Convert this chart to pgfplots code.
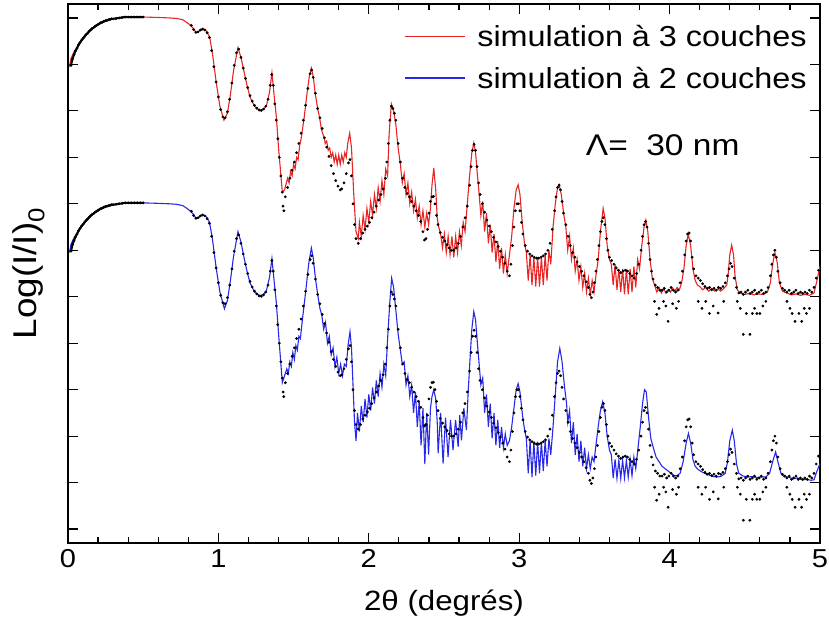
\documentclass[border=0pt]{standalone}
\usepackage{fontspec}
\setmainfont{Liberation Sans}[FakeStretch=1.12]
\usepackage{pgfplots}
\usepackage{pgfplotstable}
\pgfplotsset{compat=1.18}
\definecolor{simred}{RGB}{232,36,36}
\definecolor{simblue}{RGB}{40,40,235}

\pgfplotstableread{
x y
0.02 9.98
0.03 10.12
0.04 10.21
0.05 10.29
0.06 10.35
0.07 10.42
0.08 10.47
0.09 10.52
0.10 10.56
0.11 10.60
0.12 10.64
0.13 10.67
0.14 10.71
0.15 10.74
0.16 10.77
0.17 10.79
0.18 10.82
0.19 10.84
0.20 10.86
0.21 10.88
0.22 10.90
0.23 10.91
0.24 10.93
0.25 10.94
0.26 10.95
0.27 10.96
0.28 10.97
0.29 10.98
0.30 10.98
0.32 10.99
0.34 11.00
0.36 11.01
0.38 11.02
0.40 11.02
0.42 11.02
0.44 11.02
0.46 11.02
0.48 11.02
0.50 11.02
0.82 10.84
0.835 10.75
0.85 10.69
0.865 10.70
0.88 10.74
0.895 10.76
0.91 10.74
0.925 10.68
0.94 10.58
0.955 10.30
0.97 9.95
0.985 9.62
1.00 9.30
1.015 9.03
1.03 8.87
1.045 8.85
1.06 8.98
1.075 9.25
1.09 9.60
1.105 9.98
1.12 10.25
1.135 10.33
1.15 10.15
1.165 9.92
1.18 9.70
1.195 9.50
1.21 9.33
1.225 9.21
1.24 9.12
1.255 9.06
1.27 9.02
1.285 9.01
1.30 9.04
1.315 9.10
1.33 9.25
1.345 9.55
1.355 9.78
1.365 9.55
1.375 9.15
1.385 8.80
1.395 8.40
1.405 8.00
1.415 7.60
1.425 7.25
1.43 6.95
1.435 6.85
1.445 7.15
1.46 7.35
1.475 7.55
1.49 7.72
1.505 7.90
1.52 8.10
1.535 8.30
1.55 8.52
1.565 8.80
1.58 9.12
1.595 9.48
1.61 9.80
1.62 9.88
1.63 9.72
1.645 9.38
1.66 9.05
1.675 8.85
1.69 8.62
1.705 8.42
1.72 8.22
1.735 8.02
1.75 7.82
1.765 7.65
1.78 7.50
1.795 7.38
1.81 7.30
1.82 7.32
1.835 7.45
1.85 7.65
1.865 7.88
1.875 7.95
1.885 7.60
1.895 7.00
1.905 6.55
1.915 6.25
1.93 6.15
1.945 6.25
1.96 6.37
1.975 6.45
1.99 6.52
2.005 6.60
2.02 6.70
2.035 6.82
2.05 6.95
2.065 7.08
2.08 7.20
2.095 7.32
2.11 7.55
2.12 7.90
2.13 8.30
2.14 8.80
2.15 9.10
2.16 9.05
2.17 8.95
2.18 8.80
2.195 8.30
2.21 7.90
2.225 7.55
2.24 7.35
2.255 7.22
2.27 7.15
2.285 7.05
2.30 6.95
2.315 6.85
2.33 6.75
2.345 6.62
2.36 6.40
2.37 6.22
2.38 6.25
2.39 6.45
2.40 6.80
2.41 7.05
2.42 7.15
2.43 7.16
2.44 7.00
2.45 6.75
2.46 6.55
2.475 6.38
2.49 6.28
2.505 6.20
2.52 6.12
2.535 6.05
2.55 6.00
2.565 6.00
2.58 6.05
2.595 6.15
2.61 6.30
2.625 6.50
2.64 6.70
2.655 6.95
2.67 7.40
2.68 7.80
2.69 8.15
2.70 8.28
2.71 8.15
2.72 7.80
2.73 7.45
2.74 7.20
2.755 7.00
2.77 6.82
2.785 6.65
2.80 6.52
2.815 6.40
2.83 6.28
2.845 6.18
2.86 6.08
2.875 5.98
2.89 5.85
2.905 5.72
2.92 5.55
2.935 5.45
2.945 5.70
2.955 6.10
2.965 6.50
2.975 6.85
2.985 7.00
2.995 7.00
3.005 6.85
3.015 6.60
3.025 6.35
3.04 6.10
3.055 5.98
3.07 5.92
3.085 5.88
3.10 5.85
3.115 5.83
3.13 5.83
3.145 5.85
3.16 5.88
3.175 5.92
3.19 6.00
3.205 6.15
3.22 6.45
3.235 6.85
3.245 7.15
3.255 7.35
3.265 7.40
3.275 7.30
3.285 7.05
3.295 6.80
3.31 6.55
3.325 6.30
3.34 6.10
3.355 5.95
3.37 5.85
3.385 5.75
3.40 5.65
3.415 5.55
3.43 5.45
3.445 5.32
3.46 5.20
3.47 5.05
3.48 4.98
3.49 5.10
3.50 5.30
3.51 5.55
3.52 5.80
3.53 6.10
3.54 6.40
3.55 6.62
3.56 6.70
3.57 6.55
3.58 6.25
3.59 6.00
3.60 5.85
3.615 5.78
3.63 5.70
3.645 5.62
3.66 5.57
3.675 5.52
3.69 5.55
3.705 5.57
3.72 5.55
3.735 5.50
3.75 5.45
3.765 5.40
3.78 5.50
3.795 5.70
3.81 6.00
3.82 6.30
3.83 6.55
3.84 6.62
3.85 6.50
3.86 6.15
3.87 5.80
3.88 5.55
3.89 5.38
3.905 5.25
3.92 5.20
3.935 5.14
3.95 5.14
3.965 5.18
3.98 5.10
3.995 5.14
4.01 5.20
4.025 5.14
4.04 5.10
4.055 5.14
4.07 5.30
4.085 5.55
4.10 5.90
4.11 6.20
4.12 6.35
4.13 6.37
4.14 6.20
4.15 5.85
4.16 5.60
4.175 5.45
4.19 5.40
4.205 5.35
4.22 5.28
4.235 5.22
4.25 5.18
4.265 5.20
4.28 5.15
4.295 5.18
4.31 5.14
4.325 5.20
4.34 5.18
4.355 5.22
4.37 5.30
4.385 5.45
4.395 5.60
4.405 5.72
4.415 5.65
4.43 5.40
4.445 5.20
4.46 5.08
4.475 5.10
4.49 5.05
4.505 5.10
4.52 5.14
4.535 5.07
4.55 5.10
4.565 5.14
4.58 5.07
4.595 5.10
4.61 5.14
4.625 5.07
4.64 5.10
4.655 5.20
4.67 5.45
4.68 5.70
4.69 5.90
4.70 6.00
4.71 5.85
4.72 5.55
4.735 5.30
4.75 5.18
4.765 5.14
4.78 5.10
4.795 5.14
4.81 5.07
4.825 5.10
4.84 5.14
4.855 5.07
4.87 5.10
4.885 5.07
4.90 5.10
4.915 5.07
4.93 5.14
4.945 5.10
4.96 5.20
4.975 5.40
4.99 5.57
3.90 4.90
3.914 4.62
3.93 4.75
3.96 4.90
3.975 4.80
3.99 4.47
4.02 4.85
4.045 4.75
4.06 4.90
4.19 4.90
4.215 4.75
4.24 4.90
4.265 4.64
4.29 4.80
4.323 4.65
4.36 4.90
4.45 4.90
4.47 4.75
4.49 4.19
4.51 4.64
4.534 4.19
4.55 4.64
4.565 4.75
4.58 4.64
4.60 4.64
4.62 4.80
4.64 4.90
4.78 4.90
4.80 4.75
4.815 4.64
4.834 4.47
4.878 4.47
4.86 4.64
4.895 4.75
4.91 4.64
4.93 4.75
}\expdata

\begin{document}
\begin{tikzpicture}
\begin{axis}[name=ax, scale only axis, width=752bp, height=539bp,
  xmin=0, xmax=5, ymin=-0.3, ymax=11.3,
  xtick={0,1,2,3,4,5}, minor x tick num=4,
  ytick={0,1,2,3,4,5,6,7,8,9,10,11}, yticklabels={},
  tick align=inside, major tick length=10bp, minor tick length=6bp,
  axis line style={line width=1.5bp},
  every tick/.style={black, line width=1.2bp},
  /pgf/number format/assume math mode=true,
  tick label style={font=\fontsize{26}{28}\selectfont},
  xticklabel style={yshift=-3bp},
  xlabel={2θ (degrés)}, ylabel={Log(I/I)\textsubscript{0}},
  xlabel style={font=\fontsize{28}{30}\selectfont, at={(axis description cs:0.5,-0.112)}, anchor=center},
  ylabel style={font=\fontsize{33}{35}\selectfont, at={(axis description cs:-0.052,0.5)}, anchor=center},
  legend style={draw=none, fill=none, at={(rel axis cs:0.985,0.965)}, anchor=north east,
    font=\fontsize{29}{31}\selectfont, row sep=15bp, inner sep=0pt,
    /tikz/every odd column/.append style={column sep=10bp}},
  legend cell align=left,
  legend image code/.code={\draw[#1, line width=1.4bp] (0bp,0bp) -- (60bp,0bp);},
]
\addplot[simred, line width=1.1bp] coordinates {
(0.01,9.95)(0.02,10.13)(0.04,10.27)(0.06,10.37)(0.08,10.47)(0.10,10.56)(0.13,10.68)(0.165,10.78)(0.2,10.87)(0.25,10.94)(0.3,10.98)(0.39,11.02)(0.5,11.02)(0.6,11.01)(0.675,11.0)(0.72,10.99)(0.764,10.96)(0.80,10.88)(0.83,10.79)(0.853,10.68)(0.875,10.72)(0.897,10.76)(0.92,10.72)(0.941,10.60)(0.96,10.25)(0.986,9.60)(1.01,9.1)(1.037,8.80)(1.06,8.95)(1.08,9.35)(1.10,9.85)(1.13,10.36)(1.15,10.15)(1.17,9.85)(1.19,9.55)(1.21,9.30)(1.24,9.10)(1.274,9.00)(1.30,9.03)(1.32,9.12)(1.34,9.4)(1.356,9.82)(1.37,9.35)(1.385,8.88)(1.40,8.2)(1.425,7.25)(1.44,7.3)
(1.46,7.55)(1.47,7.45)(1.48,7.7)(1.49,7.6)(1.50,7.85)(1.51,7.75)(1.52,8.0)(1.53,7.95)(1.54,8.25)(1.55,8.4)(1.57,8.85)(1.59,9.4)(1.605,9.75)(1.618,9.92)(1.63,9.75)(1.645,9.35)(1.66,9.05)(1.673,8.85)(1.685,8.6)(1.695,8.5)(1.705,8.4)(1.71,8.3)(1.72,8.35)(1.73,8.15)(1.74,8.2)(1.75,8.0)(1.76,8.1)(1.77,7.9)(1.78,8.05)(1.79,7.85)(1.80,8.05)(1.81,7.85)(1.82,8.05)(1.83,7.9)(1.84,8.1)(1.85,8.0)(1.86,8.3)(1.873,8.52)(1.885,8.2)(1.90,7.2)(1.915,6.4)(1.93,6.25)
(1.9375,6.6)(1.95,6.3)(1.9625,6.75)(1.975,6.45)(1.9875,6.9)(2.0,6.6)(2.0125,7.05)(2.025,6.75)(2.0375,7.2)(2.05,6.9)(2.0625,7.35)(2.075,7.05)(2.0875,7.5)(2.10,7.2)(2.1125,7.75)(2.125,7.6)(2.135,8.5)(2.15,9.15)(2.165,9.0)(2.18,8.7)(2.195,8.2)(2.21,7.85)
(2.2225,7.45)(2.235,7.65)(2.2475,7.2)(2.26,7.45)(2.2725,7.0)(2.285,7.25)(2.2975,6.85)(2.31,7.1)(2.3225,6.7)(2.335,6.95)(2.3475,6.55)(2.36,6.85)(2.3725,6.5)(2.385,6.8)(2.3975,6.55)(2.41,6.9)(2.42,7.4)(2.432,7.77)(2.445,7.3)(2.455,6.7)(2.465,6.5)
(2.4775,6.35)(2.49,6.05)(2.5025,6.35)(2.515,5.95)(2.5275,6.3)(2.54,5.9)(2.5525,6.3)(2.565,5.85)(2.5775,6.3)(2.59,5.95)(2.6025,6.4)(2.615,6.1)(2.6275,6.6)(2.64,6.4)(2.655,7.0)(2.67,7.6)(2.685,8.1)(2.698,8.31)(2.71,8.1)(2.72,7.7)
(2.7325,7.25)(2.745,6.75)(2.7575,7.05)(2.77,6.4)(2.7825,6.8)(2.795,6.15)(2.8075,6.55)(2.82,5.95)(2.8325,6.35)(2.845,5.75)(2.8575,6.2)(2.87,5.6)(2.8825,6.05)(2.895,5.5)(2.9075,5.9)(2.92,5.5)(2.935,5.9)(2.95,6.3)(2.965,6.9)(2.98,7.3)(2.993,7.41)(3.005,7.2)(3.02,6.6)(3.035,6.15)
(3.0475,5.95)(3.06,5.35)(3.0725,5.9)(3.085,5.25)(3.0975,5.85)(3.11,5.22)(3.1225,5.85)(3.135,5.22)(3.1475,5.85)(3.16,5.25)(3.1725,5.9)(3.185,5.35)(3.1975,6.0)(3.21,5.7)(3.225,6.5)(3.24,7.0)(3.255,7.35)(3.265,7.41)(3.28,7.2)(3.295,6.8)(3.31,6.5)
(3.3225,6.0)(3.335,6.3)(3.3475,5.8)(3.36,6.05)(3.3725,5.55)(3.385,5.8)(3.3975,5.35)(3.41,5.65)(3.4225,5.2)(3.435,5.5)(3.4475,5.1)(3.46,5.4)(3.4725,5.05)(3.485,5.35)(3.4975,5.1)(3.51,5.45)(3.525,5.8)(3.54,6.4)(3.558,6.9)(3.57,6.7)(3.585,6.1)(3.60,5.8)
(3.6125,5.7)(3.625,5.25)(3.6375,5.7)(3.65,5.15)(3.6625,5.6)(3.675,5.1)(3.6875,5.6)(3.70,5.05)(3.7125,5.6)(3.725,5.05)(3.7375,5.6)(3.75,5.1)(3.7625,5.65)(3.775,5.2)(3.7875,5.8)(3.80,5.6)(3.815,6.1)(3.83,6.5)(3.842,6.65)(3.855,6.4)(3.87,5.8)(3.885,5.4)
(3.90,5.25)(3.915,5.1)(3.93,5.2)(3.945,5.08)(3.96,5.18)(3.975,5.08)(3.99,5.15)(4.005,5.1)(4.02,5.18)(4.035,5.12)(4.05,5.2)(4.065,5.15)(4.08,5.3)(4.095,5.6)(4.11,6.1)(4.124,6.35)(4.14,6.1)(4.155,5.6)(4.17,5.35)(4.185,5.25)
(4.20,5.22)(4.22,5.15)(4.24,5.2)(4.26,5.12)(4.28,5.18)(4.30,5.12)(4.32,5.17)(4.34,5.12)(4.36,5.18)(4.38,5.25)(4.39,5.5)(4.40,5.9)(4.413,6.11)(4.425,5.9)(4.435,5.45)(4.45,5.15)
(4.47,5.08)(4.50,5.05)(4.53,5.07)(4.56,5.04)(4.59,5.06)(4.62,5.05)(4.65,5.1)(4.67,5.3)(4.685,5.7)(4.70,5.95)(4.715,5.75)(4.73,5.3)(4.75,5.12)
(4.78,5.08)(4.81,5.04)(4.84,5.06)(4.87,5.03)(4.90,5.05)(4.93,5.03)(4.96,5.08)(4.98,5.35)(5.0,5.65)
};
\addlegendentry{simulation à 3 couches}
\addplot[simblue, line width=1.1bp] coordinates {
(0.01,5.95)(0.02,6.13)(0.04,6.27)(0.06,6.37)(0.08,6.47)(0.10,6.56)(0.13,6.68)(0.165,6.78)(0.2,6.87)(0.25,6.94)(0.3,6.98)(0.39,7.02)(0.5,7.02)(0.6,7.01)(0.675,7.0)(0.72,6.99)(0.764,6.96)(0.80,6.88)(0.83,6.79)(0.853,6.68)(0.875,6.72)(0.897,6.76)(0.92,6.72)(0.941,6.60)(0.96,6.25)(0.986,5.60)(1.01,5.1)(1.04,4.74)(1.06,4.92)(1.08,5.35)(1.10,5.85)(1.13,6.40)(1.15,6.18)(1.17,5.85)(1.19,5.55)(1.21,5.30)(1.24,5.10)(1.274,5.02)(1.30,5.05)(1.32,5.14)(1.34,5.42)(1.356,5.82)(1.37,5.35)(1.385,4.88)(1.40,4.2)(1.425,3.15)(1.44,3.3)
(1.455,3.45)(1.465,3.35)(1.475,3.6)(1.485,3.5)(1.495,3.8)(1.505,3.65)(1.515,3.95)(1.525,3.85)(1.535,4.15)(1.545,4.1)(1.56,4.55)(1.58,5.1)(1.60,5.7)(1.618,6.05)(1.63,5.85)(1.645,5.4)(1.66,5.05)(1.675,4.75)
(1.6875,4.6)(1.70,4.3)(1.7125,4.45)(1.725,4.0)(1.7375,4.15)(1.75,3.75)(1.7625,3.9)(1.775,3.5)(1.7875,3.7)(1.80,3.35)(1.8125,3.55)(1.825,3.3)(1.8375,3.55)(1.85,3.5)(1.862,3.95)(1.875,4.25)(1.885,3.9)(1.895,3.1)(1.905,2.3)(1.915,1.9)
(1.925,2.5)(1.9375,2.1)(1.95,2.65)(1.9625,2.3)(1.975,2.8)(1.9875,2.4)(2.0,2.9)(2.0125,2.55)(2.025,3.05)(2.0375,2.7)(2.05,3.2)(2.0625,2.85)(2.075,3.35)(2.0875,3.05)(2.10,3.55)(2.1125,3.3)(2.125,4.1)(2.14,4.9)(2.152,5.4)(2.165,5.2)(2.18,4.7)(2.195,4.2)(2.21,3.85)
(2.2225,3.55)(2.235,3.6)(2.2475,3.1)(2.26,3.3)(2.2725,2.85)(2.285,3.1)(2.2975,2.5)(2.31,2.95)(2.3225,2.2)(2.335,2.75)(2.3475,1.8)(2.36,2.6)(2.3725,1.4)(2.385,2.5)(2.3975,1.6)(2.41,2.6)(2.42,2.85)(2.432,3.0)(2.445,2.8)(2.455,2.3)
(2.461,1.63)(2.4775,2.5)(2.494,1.41)(2.51,2.4)(2.527,1.55)(2.543,2.35)(2.560,1.70)(2.577,2.35)(2.594,1.77)(2.605,2.45)(2.616,1.91)(2.632,2.6)(2.649,2.13)(2.66,2.9)(2.672,3.6)(2.685,4.3)(2.698,4.68)(2.71,4.5)(2.722,4.0)(2.735,3.5)
(2.745,3.1)(2.7575,3.25)(2.77,2.5)(2.7825,2.9)(2.795,2.2)(2.8075,2.7)(2.82,1.95)(2.8325,2.5)(2.845,1.8)(2.8575,2.35)(2.87,1.75)(2.8825,2.2)(2.895,1.75)(2.9075,2.05)(2.92,1.8)(2.935,1.9)(2.95,2.2)(2.965,2.6)(2.98,3.0)(2.993,3.13)(3.005,2.95)(3.02,2.5)(3.035,2.15)
(3.0475,1.95)(3.06,1.2)(3.0725,1.9)(3.085,1.12)(3.0975,1.88)(3.11,1.15)(3.1225,1.88)(3.135,1.2)(3.1475,1.88)(3.16,1.25)(3.1725,1.9)(3.185,1.35)(3.1975,1.95)(3.21,1.6)(3.225,2.2)(3.24,2.9)(3.255,3.6)(3.27,3.89)(3.285,3.6)(3.30,3.1)(3.315,2.7)
(3.3225,2.3)(3.335,2.55)(3.3475,1.85)(3.36,2.3)(3.3725,1.6)(3.385,2.05)(3.3975,1.45)(3.41,1.9)(3.4225,1.35)(3.435,1.75)(3.4475,1.3)(3.46,1.6)(3.4725,1.3)(3.485,1.55)(3.4975,1.45)(3.51,1.8)(3.525,2.2)(3.54,2.55)(3.555,2.74)(3.57,2.5)(3.585,2.0)(3.60,1.7)
(3.6125,1.6)(3.625,1.1)(3.6375,1.5)(3.65,1.09)(3.6625,1.48)(3.675,1.09)(3.6875,1.48)(3.70,1.1)(3.7125,1.48)(3.725,1.12)(3.7375,1.5)(3.75,1.15)(3.7625,1.55)(3.775,1.3)(3.79,1.75)(3.805,2.2)(3.82,2.7)(3.833,3.0)(3.845,2.95)(3.86,2.4)(3.875,1.95)(3.89,1.77)
(3.91,1.55)(3.93,1.45)(3.95,1.35)(3.97,1.3)(3.99,1.25)(4.01,1.2)(4.03,1.15)(4.05,1.15)(4.07,1.2)(4.09,1.45)(4.11,1.85)(4.125,2.06)(4.14,1.85)(4.155,1.5)(4.17,1.35)(4.19,1.28)
(4.22,1.22)(4.25,1.18)(4.28,1.14)(4.31,1.12)(4.34,1.13)(4.37,1.2)(4.385,1.45)(4.40,1.9)(4.417,2.13)(4.43,1.9)(4.445,1.4)(4.46,1.2)
(4.49,1.14)(4.52,1.12)(4.55,1.13)(4.58,1.11)(4.61,1.12)(4.64,1.12)(4.665,1.2)(4.685,1.45)(4.705,1.66)(4.72,1.45)(4.74,1.2)(4.76,1.13)
(4.79,1.12)(4.82,1.08)(4.85,1.1)(4.88,1.06)(4.91,1.07)(4.94,1.05)(4.96,1.06)(4.98,1.25)(5.0,1.41)
};
\addlegendentry{simulation à 2 couches}
\addplot[black, line width=2bp, restrict x to domain=0:0.51, forget plot] table[x=x, y=y] {\expdata};
\addplot[black, line width=2bp, restrict x to domain=0:0.51, forget plot] table[x=x, y expr=\thisrow{y}-4] {\expdata};
\addplot[only marks, mark=*, mark size=1.2bp, black, forget plot] table[x=x, y=y] {\expdata};
\addplot[only marks, mark=*, mark size=1.2bp, black, forget plot] table[x=x, y expr=\thisrow{y}-4] {\expdata};
\node[anchor=west, font=\fontsize{30}{32}\selectfont] at (axis cs:3.42,8.27) {Λ=\ \ 30 nm};
\end{axis}
\pgfresetboundingbox
\path[use as bounding box] ([shift={(-68bp,-87bp)}]ax.south west) rectangle ([shift={(9bp,4bp)}]ax.north east);
\end{tikzpicture}
\end{document}
